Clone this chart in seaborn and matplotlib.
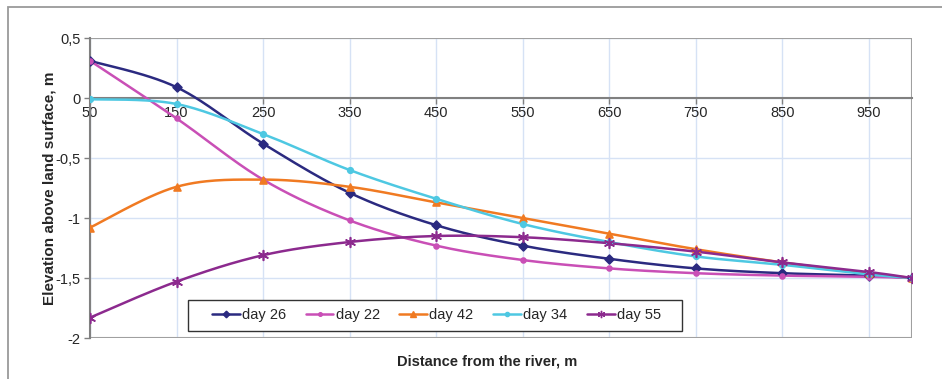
import numpy as np
import pandas as pd
import matplotlib
matplotlib.use("Agg")
import matplotlib.pyplot as plt
import seaborn as sns
from matplotlib.lines import Line2D
from matplotlib.patches import Rectangle
from matplotlib.ticker import FuncFormatter

# distance from the river, m
distance = [50, 150, 250, 350, 450, 550, 650, 750, 850, 950, 1000]

# elevation above land surface, m
day26 = [0.31, 0.09, -0.38, -0.79, -1.06, -1.23, -1.34, -1.42, -1.46, -1.48, -1.50]
day22 = [0.31, -0.17, -0.68, -1.02, -1.23, -1.35, -1.42, -1.46, -1.48, -1.49, -1.50]
day42 = [-1.08, -0.74, -0.68, -0.74, -0.87, -1.00, -1.13, -1.26, -1.37, -1.46, -1.50]
day34 = [-0.01, -0.05, -0.30, -0.60, -0.84, -1.05, -1.20, -1.32, -1.39, -1.47, -1.50]
day55 = [-1.83, -1.53, -1.31, -1.20, -1.15, -1.16, -1.21, -1.28, -1.37, -1.45, -1.50]

series = [
    ("day 26", day26, "#2b2a80", "D", 4.5),
    ("day 22", day22, "#c94fb6", "o", 3.5),
    ("day 42", day42, "#f07a22", "^", 5),
    ("day 34", day34, "#4ec8e2", "o", 4),
    ("day 55", day55, "#8c2a8e", (6, 2, 0), 7),
]


def smooth(xs, ys, n=30):
    # excel-like smoothed line: cubic bezier with control points from neighbours
    p = np.column_stack([xs, ys]).astype(float)
    pts = []
    for i in range(len(p) - 1):
        p0 = p[i - 1] if i > 0 else p[i]
        p3 = p[i + 2] if i + 2 < len(p) else p[i + 1]
        c1 = p[i] + (p[i + 1] - p0) / 6
        c2 = p[i + 1] - (p3 - p[i]) / 6
        t = np.linspace(0, 1, n)[:, None]
        seg = ((1 - t) ** 3 * p[i] + 3 * (1 - t) ** 2 * t * c1
               + 3 * (1 - t) * t ** 2 * c2 + t ** 3 * p[i + 1])
        pts.append(seg if i == 0 else seg[1:])
    return np.vstack(pts)


sns.set_style("white")
plt.rcParams['font.family'] = ['Liberation Sans', 'DejaVu Sans']

fig = plt.figure(figsize=(9.42, 3.79), dpi=100)
ax = fig.add_axes([90 / 942, 1 - 338 / 379, 822 / 942, 300 / 379])

# outer chart frame (only top and left edges visible in the crop)
fig.patches.append(Rectangle((8 / 942, -0.1), 1.2, 1 - 7 / 379 + 0.1,
                             transform=fig.transFigure, fill=False,
                             edgecolor="#9a9a9a", linewidth=1.3))

handles = []
for name, vals, color, marker, ms in series:
    curve = smooth(distance, vals)
    df_c = pd.DataFrame({"x": curve[:, 0], "y": curve[:, 1]})
    sns.lineplot(data=df_c, x="x", y="y", sort=False, estimator=None,
                 color=color, linewidth=1.8, ax=ax, zorder=3)
    df_p = pd.DataFrame({"x": distance, "y": vals})
    sns.scatterplot(data=df_p, x="x", y="y", marker=marker, s=ms ** 2,
                    color=color, edgecolor=color, linewidth=1.2, ax=ax, zorder=4)
    handles.append(Line2D([], [], color=color, linewidth=1.8, marker=marker,
                          markersize=ms * 0.75, markeredgecolor=color, label=name))

ax.set_xlim(50, 1000)
ax.set_ylim(-2, 0.5)
ax.set_xticks([50, 150, 250, 350, 450, 550, 650, 750, 850, 950])
ax.set_yticks([-2, -1.5, -1, -0.5, 0, 0.5])
ax.yaxis.set_major_formatter(FuncFormatter(lambda v, p: ("%g" % v).replace(".", ",")))

ax.grid(True, color="#d6e2f5", linewidth=1)
ax.set_axisbelow(True)

# x axis sits at y = 0
ax.spines['bottom'].set_position(('data', 0))
ax.spines['bottom'].set_color("#808080")
ax.spines['bottom'].set_linewidth(1.5)
ax.spines['left'].set_color("#808080")
ax.spines['left'].set_linewidth(1.5)
ax.spines['top'].set_visible(False)
ax.spines['right'].set_visible(False)
ax.add_patch(Rectangle((0, 0), 1, 1, transform=ax.transAxes, fill=False,
                       edgecolor="#a0a0a0", linewidth=1.5, zorder=1))

ax.tick_params(axis='x', direction='out', length=4, width=1, color="#808080",
               labelsize=10.5, pad=2, bottom=True)
ax.tick_params(axis='y', direction='out', length=4, width=1, color="#808080",
               labelsize=10.5, pad=3, left=True)

ax.set_xlabel("")
ax.set_ylabel("")
fig.text(487 / 942, 1 - 361 / 379, "Distance from the river, m", ha="center",
         va="center", fontsize=10.5, fontweight="bold")
fig.text(50 / 942, 1 - 188 / 379, "Elevation above land surface, m", ha="center",
         va="center", rotation=90, fontsize=11, fontweight="bold")

# legend box drawn separately so the entries keep their natural spacing
ax.add_patch(Rectangle((98 / 822, 7 / 300), 494 / 822, 31 / 300,
                       transform=ax.transAxes, facecolor="white",
                       edgecolor="#333333", linewidth=1, zorder=5))
leg = ax.legend(handles=handles, ncol=5, loc="center",
                bbox_to_anchor=(0.4215, 0.076), fontsize=10.5, frameon=False,
                handlelength=1.9, handletextpad=0.15, columnspacing=1.35,
                borderaxespad=0)
leg.set_zorder(6)

fig.savefig("out.png", dpi=100)
